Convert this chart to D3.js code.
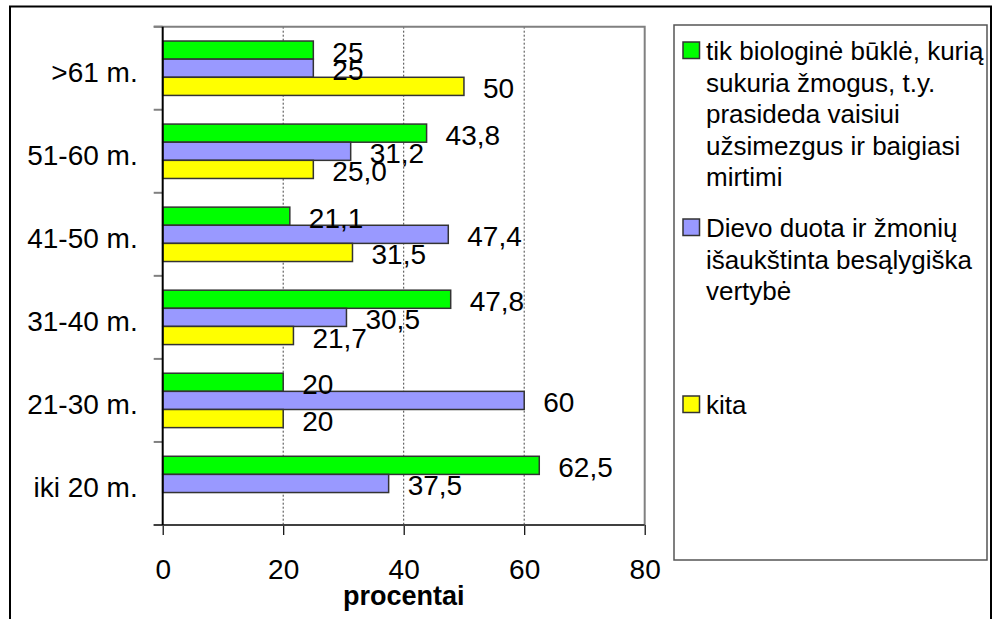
<!DOCTYPE html>
<html>
<head>
<meta charset="utf-8">
<script src="https://cdn.jsdelivr.net/npm/d3@7"></script>
<style>
  html, body { margin: 0; padding: 0; background: #fff; }
  svg { display: block; font-family: "Liberation Sans", Arial, sans-serif; }
</style>
</head>
<body>
<svg id="chart" width="992" height="619"></svg>
<script>
// ---- data ----
const categories = [">61 m.", "51-60 m.", "41-50 m.", "31-40 m.", "21-30 m.", "iki 20 m."];
const seriesNames = [
  "tik biologinė būklė, kurią sukuria žmogus, t.y. prasideda vaisiui užsimezgus ir baigiasi mirtimi",
  "Dievo duota ir žmonių išaukštinta besąlygiška vertybė",
  "kita"
];
const legendLines = [
  ["tik biologinė būklė, kurią", "sukuria žmogus, t.y.", "prasideda vaisiui", "užsimezgus ir baigiasi", "mirtimi"],
  ["Dievo duota ir žmonių", "išaukštinta besąlygiška", "vertybė"],
  ["kita"]
];
const greenValues  = [25, 43.8, 21.1, 47.8, 20, 62.5];
const blueValues   = [25, 31.2, 47.4, 30.5, 60, 37.5];
const yellowValues = [50, 25.0, 31.5, 21.7, 20, null];
const greenLabels  = ["25", "43,8", "21,1", "47,8", "20", "62,5"];
const blueLabels   = ["25", "31,2", "47,4", "30,5", "60", "37,5"];
const yellowLabels = ["50", "25,0", "31,5", "21,7", "20", ""];
const xTicks = [0, 20, 40, 60, 80];
const axisTitle = "procentai";
const colors = ["#00ff00", "#9999ff", "#ffff00"];

const seriesValues = [greenValues, blueValues, yellowValues];
const seriesLabels = [greenLabels, blueLabels, yellowLabels];

// ---- layout ----
const svg = d3.select("#chart");
const plot = { left: 162.7, right: 644.7, top: 26.7, bottom: 525 };

svg.append("rect").attr("width", 992).attr("height", 619).attr("fill", "#fff");
// outer frame
svg.append("rect").attr("x", 10).attr("y", 6.5).attr("width", 981).attr("height", 700)
  .attr("fill", "none").attr("stroke", "#000").attr("stroke-width", 2);

const x = d3.scaleLinear().domain([0, 80]).range([plot.left, plot.right]);
const y = d3.scaleBand().domain(categories).range([plot.top, plot.bottom]);
const ySub = d3.scaleBand().domain(d3.range(3)).range([0, y.bandwidth()]).paddingOuter(0.79);

// gridlines
svg.append("g").selectAll("line").data(xTicks.filter(t => t > 0 && t < 80)).join("line")
  .attr("x1", d => x(d)).attr("x2", d => x(d))
  .attr("y1", plot.top).attr("y2", plot.bottom)
  .attr("stroke", "#444").attr("stroke-width", 1).attr("stroke-dasharray", "2,2");

// plot frame top/right
svg.append("path")
  .attr("d", `M${plot.left - 9},${plot.top}H${plot.right}V${plot.bottom}`)
  .attr("fill", "none").attr("stroke", "#808080").attr("stroke-width", 2);

// bars
const rows = [];
categories.forEach((c, ci) => {
  seriesValues.forEach((vals, si) => {
    rows.push({ cat: c, s: si, v: vals[ci], label: seriesLabels[si][ci] });
  });
});
const barRows = rows.filter(d => d.v != null);
svg.append("g").selectAll("rect").data(barRows).join("rect")
  .attr("x", x(0))
  .attr("y", d => y(d.cat) + ySub(d.s))
  .attr("width", d => x(d.v) - x(0))
  .attr("height", ySub.bandwidth())
  .attr("fill", d => colors[d.s])
  .attr("stroke", "#333").attr("stroke-width", 1.5);

// y-axis ticks at band boundaries
const yBoundaries = categories.map(c => y(c)).concat([plot.bottom]);
svg.append("g").selectAll("line").data(yBoundaries).join("line")
  .attr("x1", plot.left - 9).attr("x2", plot.left)
  .attr("y1", d => d).attr("y2", d => d)
  .attr("stroke", "#808080").attr("stroke-width", 2);

// bottom axis
const xAxis = d3.axisBottom(x).tickValues(xTicks).tickSize(10).tickPadding(30).tickFormat(d3.format("d"));
const gx = svg.append("g").attr("transform", `translate(0,${plot.bottom})`).call(xAxis);
gx.select(".domain").remove();
gx.selectAll(".tick line").attr("stroke", "#000").attr("stroke-width", 1.2);
gx.selectAll(".tick text").attr("font-size", 28).attr("fill", "#000")
  .attr("font-family", "'Liberation Sans', Arial, sans-serif").attr("dy", "0.5em");
svg.append("line").attr("x1", plot.left - 9).attr("x2", plot.right)
  .attr("y1", plot.bottom).attr("y2", plot.bottom)
  .attr("stroke", "#404040").attr("stroke-width", 2);
// left axis
svg.append("line").attr("x1", plot.left).attr("x2", plot.left)
  .attr("y1", plot.top).attr("y2", plot.bottom)
  .attr("stroke", "#000").attr("stroke-width", 2);

// category labels
svg.append("g").selectAll("text").data(categories).join("text")
  .attr("x", plot.left - 25)
  .attr("y", d => y(d) + y.bandwidth() / 2 + 14)
  .attr("text-anchor", "end").attr("font-size", 28).attr("fill", "#000")
  .text(d => d);

// value labels
svg.append("g").selectAll("text").data(barRows.filter(d => d.label)).join("text")
  .attr("x", d => x(d.v) + 19)
  .attr("y", d => y(d.cat) + ySub(d.s) + ySub.bandwidth() / 2 + 12)
  .attr("font-size", 28).attr("fill", "#000")
  .text(d => d.label);

// axis title
svg.append("text").attr("x", x(40)).attr("y", 605)
  .attr("text-anchor", "middle").attr("font-size", 27).attr("font-weight", "bold")
  .text(axisTitle);

// legend
const lg = svg.append("g");
lg.append("rect").attr("x", 674).attr("y", 25).attr("width", 313).attr("height", 535)
  .attr("fill", "#fff").attr("stroke", "#555").attr("stroke-width", 1.5);
const legY = d3.scaleLinear().domain([0, 1]).range([50.5, 227.5]);
const items = lg.selectAll("g.item").data(seriesNames.map((n, i) => ({ n, i }))).join("g")
  .attr("class", "item")
  .attr("transform", d => `translate(0,${legY(d.i)})`);
items.append("rect").attr("x", 683).attr("y", -8.5).attr("width", 16.5).attr("height", 16.5)
  .attr("fill", d => colors[d.i]).attr("stroke", "#333").attr("stroke-width", 1.5);
items.append("text").attr("font-size", 26).attr("fill", "#000")
  .selectAll("tspan").data(d => legendLines[d.i]).join("tspan")
  .attr("x", 706).attr("y", (d, j) => j * 31.5 + 9.5)
  .text(d => d);
</script>
</body>
</html>
